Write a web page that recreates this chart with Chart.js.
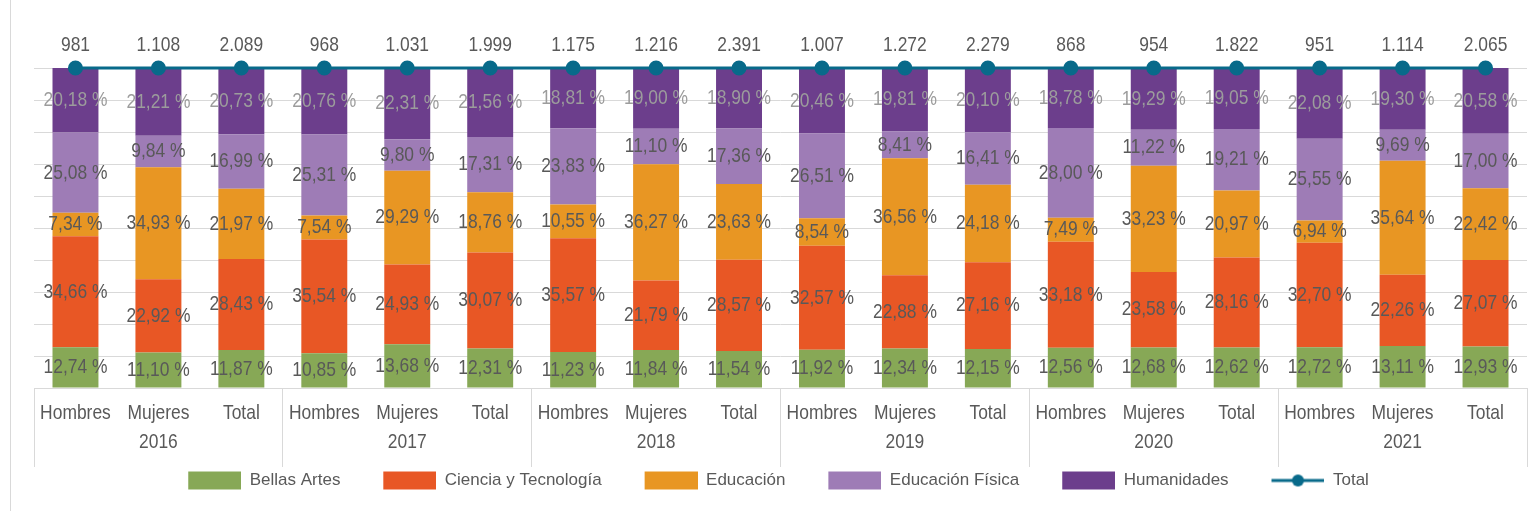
<!DOCTYPE html>
<html lang="es">
<head>
<meta charset="utf-8">
<script src="https://cdn.jsdelivr.net/npm/chart.js@4.4.1/dist/chart.umd.min.js"></script>
<style>
  html, body { margin: 0; padding: 0; background: #fff; }
  #wrap { position: relative; width: 1536px; height: 513px; }
  #frame { position: absolute; left: 10px; top: 0; width: 1px; height: 511px; background: #d9d9d9; }
</style>
</head>
<body>
<div id="wrap">
  <canvas id="chart"></canvas>
  <div id="frame"></div>
</div>
<script>
// ── Datos ──
const years  = ['2016', '2017', '2018', '2019', '2020', '2021'];
const groups = ['Hombres', 'Mujeres', 'Total'];

const bellasArtes  = [12.74, 11.10, 11.87, 10.85, 13.68, 12.31, 11.23, 11.84, 11.54, 11.92, 12.34, 12.15, 12.56, 12.68, 12.62, 12.72, 13.11, 12.93];
const cienciaTec   = [34.66, 22.92, 28.43, 35.54, 24.93, 30.07, 35.57, 21.79, 28.57, 32.57, 22.88, 27.16, 33.18, 23.58, 28.16, 32.70, 22.26, 27.07];
const educacion    = [7.34, 34.93, 21.97, 7.54, 29.29, 18.76, 10.55, 36.27, 23.63, 8.54, 36.56, 24.18, 7.49, 33.23, 20.97, 6.94, 35.64, 22.42];
const edFisica     = [25.08, 9.84, 16.99, 25.31, 9.80, 17.31, 23.83, 11.10, 17.36, 26.51, 8.41, 16.41, 28.00, 11.22, 19.21, 25.55, 9.69, 17.00];
const humanidades  = [20.18, 21.21, 20.73, 20.76, 22.31, 21.56, 18.81, 19.00, 18.90, 20.46, 19.81, 20.10, 18.78, 19.29, 19.05, 22.08, 19.30, 20.58];
const totals       = [981, 1108, 2089, 968, 1031, 1999, 1175, 1216, 2391, 1007, 1272, 2279, 868, 954, 1822, 951, 1114, 2065];
const totalLevel   = totals.map(() => 100);   // la línea Total va pegada al 100 %

const labels = years.flatMap(y => groups.map((g, k) => [g, k === 1 ? y : '']));

// ── Estilo ──
const FONT = '"Liberation Sans", Arial, sans-serif';
const TEXT = '#595959';
const GRID = '#d9d9d9';
const LINE = '#086a8a';
const NARROW = 0.83;   // imita Arial Narrow

Chart.defaults.font.family = FONT;
Chart.defaults.font.size = 17;
Chart.defaults.color = TEXT;

const pct = v => v.toFixed(2).replace('.', ',') + ' %';
const miles = n => String(n).replace(/\B(?=(\d{3})+(?!\d))/g, '.');

function narrowText(ctx, text, x, y) {
    ctx.save();
    ctx.translate(x, y);
    ctx.scale(NARROW, 1);
    ctx.fillText(text, 0, 0);
    ctx.restore();
}

// muestra de leyenda: 14 px de aire a la izquierda + caja de 53 px
function swatch(color, isLine) {
    const c = document.createElement('canvas');
    c.width = 67; c.height = 20;
    const g = c.getContext('2d');
    if (isLine) {
        g.strokeStyle = color; g.lineWidth = 3;
        g.beginPath(); g.moveTo(14, 10); g.lineTo(67, 10); g.stroke();
        g.fillStyle = color;
        g.beginPath(); g.arc(40.5, 10, 6, 0, Math.PI * 2); g.fill();
    } else {
        g.fillStyle = color;
        g.fillRect(14, 1, 53, 18);
    }
    return c;
}

function barSet(label, data, color, labelColor) {
    return { type: 'bar', label, data, backgroundColor: color, labelColor, stack: 'pct' };
}

// ── Etiquetas: valores, totales y eje X en dos niveles ──
const valueLabels = {
    id: 'valueLabels',
    afterDatasetsDraw(chart) {
        const ctx = chart.ctx;
        ctx.save();
        ctx.font = '21px ' + FONT;
        ctx.textAlign = 'center';
        ctx.textBaseline = 'middle';
        chart.data.datasets.forEach((ds, i) => {
            const meta = chart.getDatasetMeta(i);
            if (meta.type === 'bar') {
                ctx.fillStyle = ds.labelColor;
                meta.data.forEach((bar, j) => {
                    narrowText(ctx, pct(ds.data[j]), bar.x, (bar.y + bar.base) / 2);
                });
            } else {
                ctx.fillStyle = TEXT;
                meta.data.forEach((pt, j) => {
                    narrowText(ctx, miles(totals[j]), pt.x, pt.y - 23);
                });
            }
        });

        const xs = chart.scales.x;
        const y0 = chart.chartArea.bottom;
        ctx.fillStyle = TEXT;
        labels.forEach((lab, i) => {
            const x = xs.getPixelForValue(i);
            narrowText(ctx, lab[0], x, y0 + 25.5);
            if (lab[1]) narrowText(ctx, lab[1], x, y0 + 54);
        });
        ctx.restore();
    }
};

new Chart(document.getElementById('chart'), {
    data: {
        labels,
        datasets: [
            barSet('Bellas Artes', bellasArtes, '#87a856', TEXT),
            barSet('Ciencia y Tecnología', cienciaTec, '#e85725', TEXT),
            barSet('Educación', educacion, '#e89623', TEXT),
            barSet('Educación Física', edFisica, '#9e7cb6', TEXT),
            barSet('Humanidades', humanidades, '#6c3e8c', '#9c9c9c'),
            {
                type: 'line',
                label: 'Total',
                data: totalLevel,
                borderColor: LINE,
                backgroundColor: LINE,
                borderWidth: 3,
                pointRadius: 6,
                pointHoverRadius: 6,
                stack: 'tot',
                clip: false,
                order: -1
            }
        ]
    },
    options: {
        responsive: true,
        maintainAspectRatio: false,
        animation: false,
        datasets: { bar: { barPercentage: 0.554, categoryPercentage: 1 } },
        layout: { padding: { left: 34, right: 8, top: 68, bottom: 14 } },
        plugins: {
            tooltip: { enabled: false },
            legend: {
                position: 'bottom',
                labels: {
                    usePointStyle: true,
                    pointStyleWidth: 67,
                    boxHeight: 20,
                    padding: 10,
                    color: TEXT,
                    font: { size: 17 },
                    sort: (a, b) => a.datasetIndex - b.datasetIndex,
                    generateLabels(chart) {
                        return chart.data.datasets.map((ds, i) => ({
                            text: ds.label + '    ',
                            datasetIndex: i,
                            fontColor: TEXT,
                            pointStyle: swatch(ds.backgroundColor, ds.type === 'line'),
                            hidden: false
                        }));
                    }
                }
            }
        },
        scales: {
            x: {
                stacked: true,
                offset: true,
                border: { display: true, color: GRID },
                grid: {
                    drawOnChartArea: false,
                    drawTicks: true,
                    tickLength: 79,
                    color: c => (c.index === undefined || c.index % 3 === 0) ? GRID : 'rgba(0,0,0,0)'
                },
                ticks: { display: false },
                afterFit(scale) { scale.height = 74; }
            },
            y: {
                stacked: true,
                min: 0,
                max: 100,
                border: { display: false },
                grid: { color: GRID, drawTicks: false },
                ticks: { display: false, stepSize: 10 }
            }
        }
    },
    plugins: [valueLabels]
});
</script>
</body>
</html>
